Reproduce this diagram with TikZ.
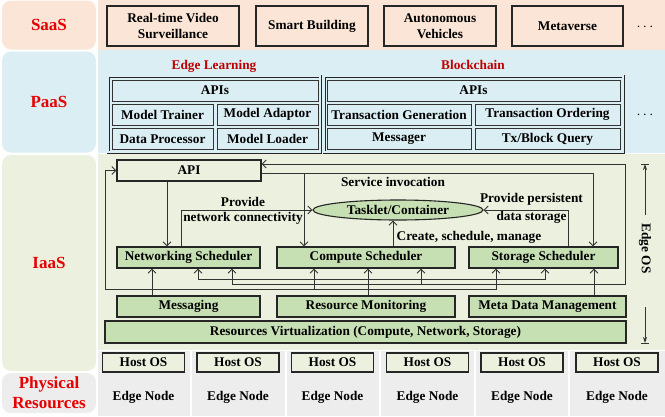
\documentclass[tikz,border=0pt]{standalone}
\usepackage{fontspec}
\setmainfont{Liberation Serif}
\usetikzlibrary{arrows.meta,shapes.geometric}
\definecolor{saas}{HTML}{FBE5D6}
\definecolor{paas}{HTML}{DAEEF3}
\definecolor{iaas}{HTML}{EBF1DE}
\definecolor{phys}{HTML}{EDEDED}
\definecolor{gfill}{HTML}{C6E0B4}
\definecolor{lblred}{HTML}{E60000}
\definecolor{darkred}{HTML}{C00000}
\definecolor{ln}{HTML}{333333}
\begin{document}
\begin{tikzpicture}[x=1pt,y=-1pt,
  txt/.style={font=\fontsize{13.3}{16}\selectfont\bfseries, inner sep=0pt, align=center},
  box/.style={txt, draw=black!85, line width=1.2pt, rectangle, minimum height=21pt},
  sbox/.style={box, line width=1.5pt, minimum height=40pt},
  gbox/.style={box, fill=gfill},
  cell/.style={txt, draw=black!80, line width=0.9pt, minimum height=21pt},
  frame/.style={draw=black!85, double=paas, double distance=1.2pt, line width=0.9pt},
  lbl/.style={font=\fontsize{17}{20}\selectfont\bfseries, text=lblred, align=center, rounded corners=9pt, inner sep=0pt},
  hbox/.style={txt, draw=black!85, line width=1.1pt, fill=iaas, minimum width=82pt, minimum height=19pt},
  arr/.style={draw=ln, line width=0.9pt, -{Straight Barb[length=4pt,width=8pt]}},
  arrb/.style={draw=ln, line width=0.9pt, {Straight Barb[length=4pt,width=8pt]}-{Straight Barb[length=4pt,width=8pt]}},
]
\useasboundingbox (0,0) rectangle (665,416);
% bands
\fill[saas] (97.5,0) rectangle (665,50);
\fill[paas] (97.5,50) rectangle (665,153);
\fill[iaas] (97.5,154) rectangle (665,350);
\foreach \a/\b in {97.5/190,192/284.5,286.5/379,381/474,476/568,570/665}
  \fill[phys] (\a,351) rectangle (\b,416);
% left labels
\node[lbl, fill=saas, minimum width=94pt, minimum height=49pt] (lsaas) at (49,25) {SaaS};
\node[lbl, fill=paas, minimum width=94pt, minimum height=101pt] (lpaas) at (49,102) {PaaS};
\node[lbl, fill=iaas, minimum width=94pt, minimum height=216pt] (liaas) at (49,263) {IaaS};
\node[lbl, fill=phys, minimum width=94pt, minimum height=40pt] (lphys) at (49,393) {Physical\\Resources};
% SaaS
\node[sbox, minimum width=132pt] (vid) at (173,26) {Real-time Video\\Surveillance};
\node[sbox, minimum width=112pt] (smart) at (312,26) {Smart Building};
\node[sbox, minimum width=112pt] (auto) at (440,26) {Autonomous\\Vehicles};
\node[sbox, minimum width=111pt] (meta) at (567.5,26) {Metaverse};
\node[txt] (sdots) at (645,27) {$\cdots$};
% PaaS
\node[txt, text=darkred] (eltitle) at (214,66) {Edge Learning};
\node[txt, text=darkred] (bctitle) at (473,65) {Blockchain};
\node[frame, minimum width=212pt, minimum height=76pt, inner sep=0pt] (elf) at (214,114) {};
\node[cell, minimum width=206pt] (elapi) at (215,90.5) {APIs};
\node[cell, minimum width=101pt] (mt) at (162.5,114.5) {Model Trainer};
\node[cell, minimum width=101pt] (ma) at (267.5,114.5) {Model Adaptor};
\node[cell, minimum width=101pt] (dp) at (162.5,139) {Data Processor};
\node[cell, minimum width=101pt] (ml) at (267.5,139) {Model Loader};
\node[frame, minimum width=299pt, minimum height=76pt, inner sep=0pt] (bcf) at (473.5,114) {};
\node[cell, minimum width=293pt] (bcapi) at (473.5,90.5) {APIs};
\node[cell, minimum width=144pt] (tg) at (399,114.5) {Transaction Generation};
\node[cell, minimum width=145pt] (to) at (547.5,114.5) {Transaction Ordering};
\node[cell, minimum width=144pt] (msgr) at (399,139) {Messager};
\node[cell, minimum width=145pt] (tbq) at (547.5,139) {Tx/Block Query};
\node[txt] (pdots) at (645,115) {$\cdots$};
% IaaS
\node[box, minimum width=144pt] (api) at (189,170.5) {API};
\node[gbox, minimum width=143pt] (ns) at (188.5,257.5) {Networking Scheduler};
\node[gbox, minimum width=178pt] (cs) at (366,257.5) {Compute Scheduler};
\node[gbox, minimum width=149pt] (ss) at (543.5,257.5) {Storage Scheduler};
\node[txt, ellipse, draw=black!85, fill=gfill, line width=1.1pt, minimum width=170pt, minimum height=20pt] (task) at (398,210) {Tasklet/Container};
\node[gbox, minimum width=143pt] (msg) at (188.5,306.5) {Messaging};
\node[gbox, minimum width=178pt] (rm) at (366,306.5) {Resource Monitoring};
\node[gbox, minimum width=157pt] (mdm) at (547.5,306.5) {Meta Data Management};
\node[gbox, minimum width=521pt, minimum height=22pt] (rv) at (365.5,332) {Resources Virtualization (Compute, Network, Storage)};
% labels
\node[txt] (lnet) at (243,210.5) {Provide\\[-1pt]network connectivity};
\node[txt] (lsvc) at (393,182) {Service invocation};
\node[txt] (lcre) at (469,237) {Create, schedule, manage};
\node[txt] (lsto) at (531.5,208) {Provide persistent\\[2pt]data storage};
% coordinates
\coordinate (j1) at (304,173);
\coordinate (lp1) at (625,284);
\coordinate (b1) at (421,284);
\coordinate (h1) at (198,279);
\coordinate (h2) at (545,279);
\coordinate (l1) at (105,289);
\coordinate (l2) at (496,289);
\coordinate (b2) at (314,289);
% connectors
\draw[arr] ([xshift=-22pt]api.south) -- ([xshift=-21.5pt]ns.north);
\draw[arr] ([xshift=-7.5pt]ns.north) |- (task.west);
\draw[arr] ([yshift=-2.5pt]api.east) -| ([xshift=49.5pt]ss.north);
\draw[arr] (j1) -- (j1 |- cs.north);
\draw[arr] ([xshift=27pt]cs.north) -- ([xshift=27pt]cs.north |- task.south);
\draw[arr] ([xshift=24.5pt]ss.north) |- (task.east);
\draw[arrb] ([xshift=43.5pt]ns.south) |- (lp1) |- ([yshift=6.5pt]api.east);
\draw[arr] (b1) -- (b1 |- cs.south);
\draw[arrb] (h1 |- ns.south) -- (h1) -- (h2) -- (h2 |- ss.south);
\draw[arrb] (api.west) -| (l1) -- (l2) -- (l2 |- ss.south);
\draw[arr] (b2) -- (b2 |- cs.south);
\draw[arr] ([xshift=-36.5pt]msg.north) -- ([xshift=-36.5pt]ns.south);
\draw[arr] ([xshift=2pt]rm.north) -- ([xshift=2pt]cs.south);
\draw[arr] ([xshift=46.5pt]mdm.north) -- ([xshift=50.5pt]ss.south);
% Edge OS
\node[txt, rotate=-90] (eos) at (645,248.5) {Edge OS};
\coordinate (e1) at (645,215);
\coordinate (e2) at (645,164);
\coordinate (e3) at (645,307);
\coordinate (e4) at (645,343);
\draw[draw=ln, line width=0.9pt, -{Stealth[length=6pt,width=4pt]}] (e1) -- (e2);
\draw[draw=ln, line width=0.9pt, -{Stealth[length=6pt,width=4pt]}] (e3) -- (e4);
\draw[draw=ln, line width=0.9pt] ([xshift=-4pt]e2) -- ([xshift=4pt]e2);
\draw[draw=ln, line width=0.9pt] ([xshift=-4pt]e4) -- ([xshift=4pt]e4);
% Physical
\foreach \c [count=\i] in {143.5,238,332.5,427.5,522,617} {
  \node[hbox] (host\i) at (\c,362.5) {Host OS};
  \node[txt] (en\i) at (\c,397) {Edge Node};
}
\end{tikzpicture}
\end{document}
